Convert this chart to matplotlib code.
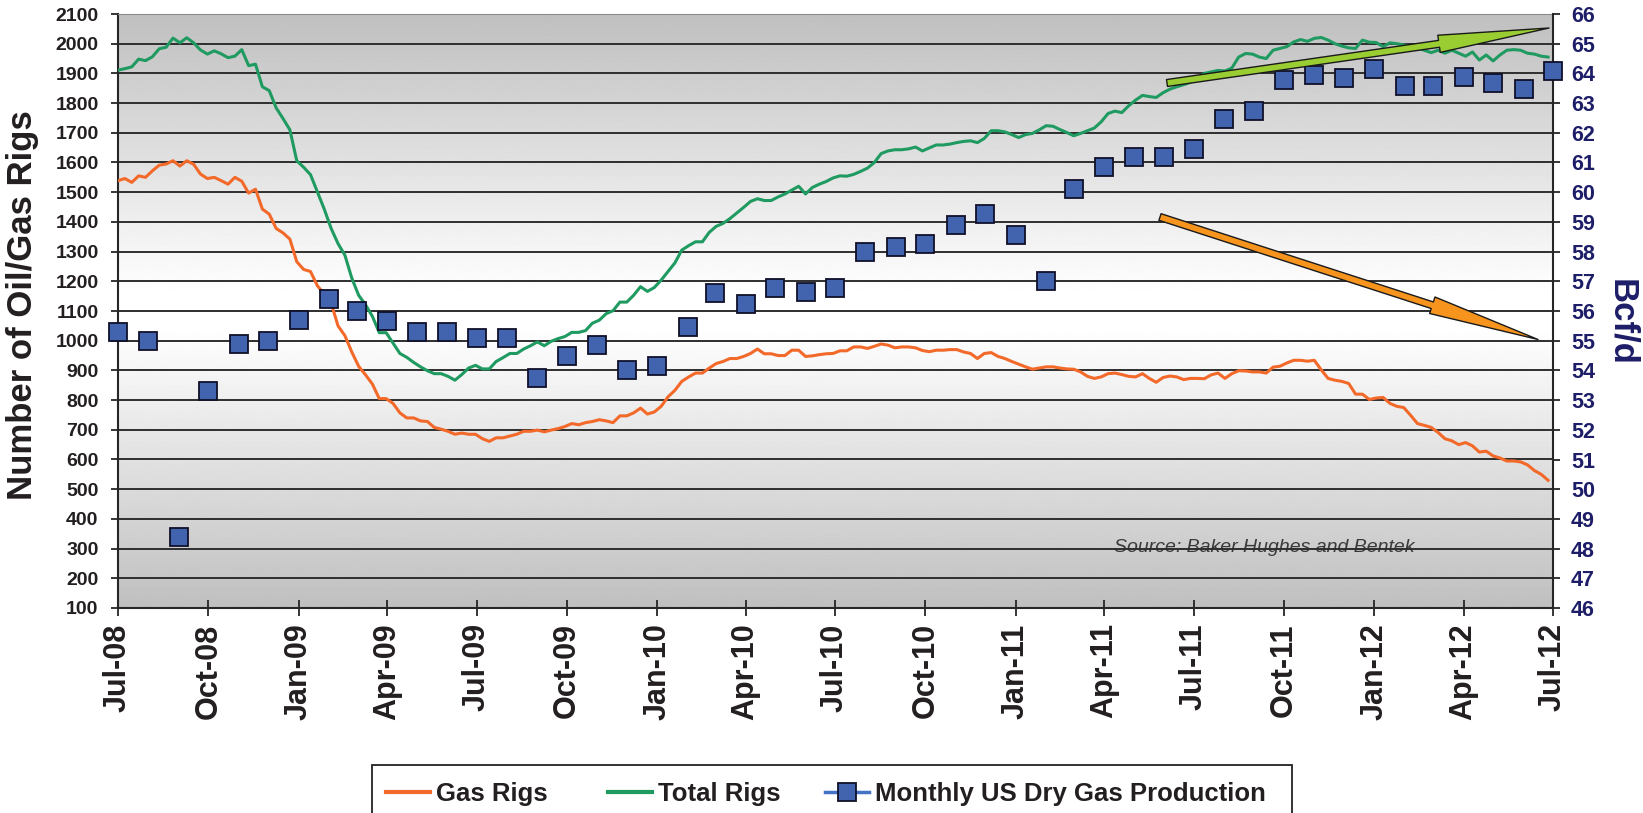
import matplotlib
matplotlib.use('Agg')
import matplotlib.pyplot as plt
import matplotlib.dates as mdates
import numpy as np
import pandas as pd
from matplotlib.lines import Line2D
from matplotlib.patches import Rectangle

plt.rcParams['font.family'] = ['Liberation Sans', 'DejaVu Sans']

# ---------------- data ----------------
series_start = '2008-07-01'          # weekly rig counts start
gas_rigs = [
    1539, 1546, 1533, 1555, 1550, 1572, 1591, 1595, 1606, 1588,
    1606, 1594, 1561, 1546, 1550, 1539, 1527, 1550, 1537, 1497,
    1510, 1443, 1426, 1378, 1363, 1342, 1266, 1240, 1233, 1185,
    1157, 1127, 1050, 1017, 962, 914, 885, 854, 805, 805,
    789, 757, 740, 740, 730, 728, 708, 702, 695, 685,
    689, 685, 685, 670, 661, 673, 673, 679, 685, 695,
    695, 699, 693, 699, 704, 711, 721, 717, 724, 728,
    734, 730, 724, 747, 747, 757, 773, 753, 760, 779,
    811, 833, 863, 878, 891, 891, 908, 923, 930, 940,
    940, 947, 957, 972, 956, 956, 950, 950, 968, 968,
    947, 949, 953, 956, 957, 966, 966, 979, 979, 974,
    981, 989, 985, 976, 979, 979, 976, 967, 963, 968,
    968, 970, 970, 962, 957, 940, 957, 960, 947, 940,
    930, 921, 912, 904, 908, 912, 912, 908, 905, 904,
    895, 880, 873, 878, 889, 891, 886, 880, 878, 889,
    873, 860, 876, 881, 878, 869, 873, 873, 872, 885,
    891, 873, 889, 899, 898, 895, 895, 891, 911, 914,
    925, 934, 934, 931, 934, 902, 873, 867, 863, 856,
    820, 820, 802, 807, 809, 789, 779, 775, 749, 721,
    715, 708, 691, 670, 663, 650, 657, 646, 625, 628,
    612, 605, 595, 595, 592, 582, 563, 550, 530]

total_rigs = [
    1911, 1916, 1922, 1948, 1943, 1956, 1983, 1988, 2019, 2003,
    2020, 2003, 1979, 1965, 1976, 1966, 1953, 1958, 1980, 1926,
    1931, 1855, 1842, 1784, 1748, 1710, 1606, 1584, 1559, 1501,
    1443, 1378, 1327, 1288, 1211, 1153, 1121, 1082, 1027, 1027,
    992, 957, 944, 927, 912, 899, 889, 889, 880, 867,
    886, 908, 917, 905, 905, 930, 943, 957, 957, 972,
    983, 996, 983, 998, 1007, 1014, 1028, 1028, 1034, 1059,
    1069, 1091, 1101, 1130, 1130, 1153, 1182, 1166, 1179, 1204,
    1233, 1262, 1305, 1320, 1333, 1333, 1365, 1385, 1395, 1411,
    1430, 1449, 1469, 1478, 1472, 1472, 1484, 1494, 1507, 1520,
    1494, 1516, 1527, 1536, 1548, 1555, 1554, 1560, 1570, 1581,
    1600, 1630, 1639, 1643, 1643, 1646, 1652, 1639, 1649, 1659,
    1659, 1662, 1667, 1671, 1673, 1667, 1681, 1707, 1707, 1703,
    1694, 1684, 1694, 1698, 1710, 1724, 1722, 1711, 1701, 1690,
    1698, 1707, 1716, 1737, 1765, 1773, 1768, 1791, 1810, 1826,
    1822, 1819, 1835, 1847, 1855, 1862, 1870, 1885, 1900, 1905,
    1910, 1908, 1918, 1955, 1967, 1965, 1955, 1950, 1978, 1984,
    1990, 2006, 2014, 2008, 2018, 2021, 2012, 2000, 1992, 1986,
    1984, 2012, 2005, 2004, 1990, 2003, 2000, 1996, 1992, 1985,
    1978, 1970, 1978, 1968, 1978, 1968, 1958, 1972, 1945, 1962,
    1942, 1962, 1978, 1980, 1978, 1968, 1965, 1958, 1955]

prod_start = '2008-07-01'            # monthly production
dry_gas_bcfd = [
    55.3, 55.0, 48.4, 53.3, 54.9, 55.0,
    55.7, 56.4, 56.0, 55.65, 55.3, 55.3, 55.1, 55.1, 53.73, 54.5, 54.87, 54.0,
    54.16, 55.46, 56.62, 56.23, 56.76, 56.63, 56.76, 58.0, 58.16, 58.24, 58.91, 59.27,
    58.55, 57.02, 60.1, 60.86, 61.18, 61.17, 61.46, 62.46, 62.75, 63.77, 63.94, 63.84,
    64.16, 63.58, 63.58, 63.87, 63.67, 63.47, 64.07]

left_ticks = list(range(100, 2101, 100))
right_ticks = list(range(46, 67, 1))
x_start, x_end = '2008-07-01', '2012-07-01'
labels = ['Gas Rigs', 'Total Rigs', 'Monthly US Dry Gas Production']
source_note = 'Source: Baker Hughes and Bentek'

gas_dates = pd.date_range(series_start, periods=len(gas_rigs), freq='7D')
total_dates = pd.date_range(series_start, periods=len(total_rigs), freq='7D')
prod_dates = pd.date_range(prod_start, periods=len(dry_gas_bcfd), freq='MS')

# ---------------- style ----------------
ORANGE = '#f2692a'
GREEN = '#1f9a60'
BLUE = '#4263ae'
NAVY = '#1d1d68'
DARK = '#262626'
GRID = '#2e2e2e'

W, H = 1643, 813
fig = plt.figure(figsize=(W / 100, H / 100), dpi=100)
L, R, T, B = 118, 1553, 14, 608
pos = [L / W, (H - B) / H, (R - L) / W, (B - T) / H]


def fx(px):
    return (px - L) / (R - L)


def fy(py):
    return (B - py) / (B - T)


# gradient background
bg = fig.add_axes(pos, zorder=0)
t = np.linspace(0, 1, 600)
g = 1 - 0.25 * np.clip((np.abs(t - 0.5) - 0.03) / 0.47, 0, 1)
bg.imshow(g[::-1].reshape(-1, 1), cmap='gray', vmin=0, vmax=1, aspect='auto',
          extent=[0, 1, 0, 1], interpolation='bilinear')
bg.axis('off')

ax = fig.add_axes(pos, zorder=1)
ax.patch.set_visible(False)
ax2 = ax.twinx()
ax2.set_zorder(2)
ax2.patch.set_visible(False)

for v in left_ticks:
    ax.axhline(v, color=('#8a8a8a' if v == left_ticks[-1] else GRID), lw=1.4, zorder=1)

ax.plot(gas_dates, gas_rigs, color=ORANGE, lw=2.2, zorder=3, solid_joinstyle='round')
ax.plot(total_dates, total_rigs, color=GREEN, lw=2.2, zorder=3, solid_joinstyle='round')
ax2.plot(prod_dates, dry_gas_bcfd, ls='none', marker='s', ms=12.5, mfc=BLUE,
         mec='#10102a', mew=1.3, clip_on=False, zorder=3)

ax.set_xlim(pd.Timestamp(x_start), pd.Timestamp(x_end))
ax.set_ylim(left_ticks[0], left_ticks[-1])
ax2.set_ylim(right_ticks[0], right_ticks[-1])
ax.set_yticks(left_ticks)
ax2.set_yticks(right_ticks)

ax.xaxis.set_major_locator(mdates.MonthLocator(bymonth=[1, 4, 7, 10]))
ax.xaxis.set_major_formatter(mdates.DateFormatter('%b-%y'))

ax.tick_params(axis='x', direction='inout', length=12, width=1.3, color=DARK,
               pad=5, labelsize=22, labelrotation=90, labelcolor='#231f20')
ax.tick_params(axis='y', direction='out', length=5, width=1.3, color=DARK,
               pad=9, labelsize=14, labelcolor='#231f20')
ax2.tick_params(axis='y', direction='out', length=5, width=1.3, color=DARK,
                pad=8, labelsize=15.5, labelcolor=NAVY)
for lab in ax.get_xticklabels() + ax.get_yticklabels() + ax2.get_yticklabels():
    lab.set_fontweight('bold')

for s in ['left', 'bottom']:
    ax.spines[s].set_color(DARK)
    ax.spines[s].set_linewidth(1.5)
ax.spines['right'].set_visible(False)
ax.spines['top'].set_color('#8a8a8a')
ax2.spines['right'].set_color(DARK)
ax2.spines['right'].set_linewidth(1.5)
for s in ['left', 'bottom', 'top']:
    ax2.spines[s].set_visible(False)

# axis titles
fig.text(23 / W, 1 - 305 / H, 'Number of Oil/Gas Rigs', rotation=90, fontsize=25,
         fontweight='bold', color='#231f20', ha='center', va='center')
fig.text(1622 / W, 1 - 322 / H, 'Bcf/d', rotation=270, fontsize=25,
         fontweight='bold', color=NAVY, ha='center', va='center')

# source note (behind gridlines)
ax.text(fx(1114), fy(548), source_note, transform=ax.transAxes,
        fontsize=14, style='italic', color='#3a3a3a', va='center', ha='left', zorder=0.8)

# trend arrows
arrow_style = 'simple,head_length=80,head_width=12.5,tail_width=5'
ax2.annotate('', xy=(fx(1549), fy(28)), xytext=(fx(1167), fy(83)), xycoords='axes fraction',
             textcoords='axes fraction', annotation_clip=False,
             arrowprops=dict(arrowstyle=arrow_style, mutation_scale=1, fc='#9acd32',
                             ec='#1a1a1a', lw=1, shrinkA=0, shrinkB=0))
ax2.annotate('', xy=(fx(1538), fy(339.5)), xytext=(fx(1160), fy(217)), xycoords='axes fraction',
             textcoords='axes fraction', annotation_clip=False,
             arrowprops=dict(arrowstyle=arrow_style, mutation_scale=1, fc='#f7941d',
                             ec='#1a1a1a', lw=1, shrinkA=0, shrinkB=0))

# legend box (cut by the bottom edge)
fig.add_artist(Rectangle((372 / W, -0.05), (1292 - 372) / W, 0.05 + (H - 765) / H,
                         transform=fig.transFigure, facecolor='white', edgecolor='#222222',
                         lw=1.3, zorder=5))
handles = [Line2D([], [], color=ORANGE, lw=3),
           Line2D([], [], color=GREEN, lw=3),
           Line2D([], [], color='#4472c4', lw=2.5, marker='s', ms=13, mfc=BLUE,
                  mec='#10102a', mew=1.3)]
handle_x = [386, 608, 825]
for h, lab, x0 in zip(handles, labels, handle_x):
    leg = fig.legend([h], [lab], loc='center left', bbox_to_anchor=(x0 / W, 1 - 794 / H),
                     frameon=False, prop={'size': 18.5, 'weight': 'bold'},
                     handlelength=1.7, handletextpad=0.25, borderpad=0, borderaxespad=0)
    leg.set_zorder(6)
    for txt in leg.get_texts():
        txt.set_color('#231f20')

fig.savefig('out.png', dpi=100)
